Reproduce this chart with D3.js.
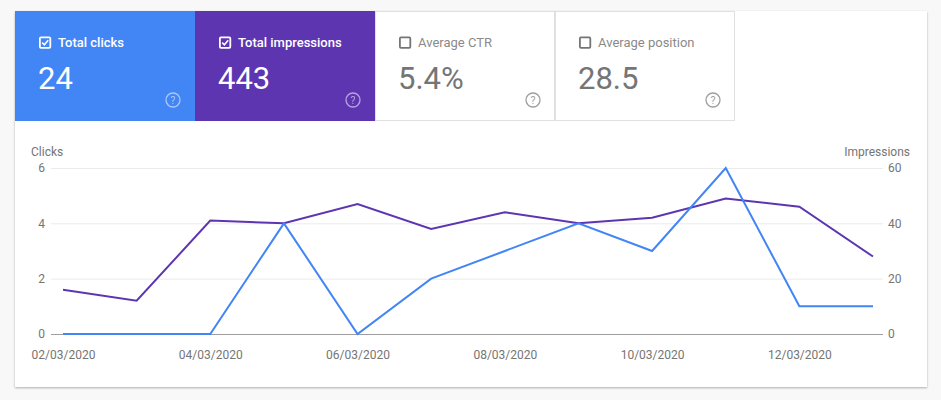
<!DOCTYPE html>
<html><head><meta charset="utf-8">
<script src="https://cdn.jsdelivr.net/npm/d3@7"></script>
<style>
html,body{margin:0;padding:0;background:#f8f8f8;}
svg{display:block;font-family:Roboto,"Noto Sans",sans-serif;}
</style></head>
<body>
<svg id="c" width="941" height="400"></svg>
<script>
const dates = ["02/03/2020","03/03/2020","04/03/2020","05/03/2020","06/03/2020","07/03/2020","08/03/2020","09/03/2020","10/03/2020","11/03/2020","12/03/2020","13/03/2020"];
const clicks = [0,0,0,4,0,2,3,4,3,6,1,1];
const impressions = [16,12,41,40,47,38,44,40,42,49,46,28];
const clickTicks = [0,2,4,6];
const imprTicks = [0,20,40,60];
const tileLabels = ["Total clicks","Total impressions","Average CTR","Average position"];
const tileValues = ["24","443","5.4%","28.5"];
const tileChecked = [true,true,false,false];
const tileColors = ["#4285f4","#5e35b1",null,null];

const svg = d3.select("#c");
const defs = svg.append("defs");
const f = defs.append("filter").attr("id","sh").attr("x","-5%").attr("y","-5%").attr("width","110%").attr("height","115%");
f.append("feDropShadow").attr("dx",0).attr("dy",1).attr("stdDeviation",1.2).attr("flood-color","#000").attr("flood-opacity",0.3);

svg.append("rect").attr("x",15).attr("y",11).attr("width",912).attr("height",376).attr("fill","#fff").attr("filter","url(#sh)");

// tiles
const tileX = d3.scaleBand().domain(d3.range(4)).range([15,735]);
const tiles = svg.selectAll("g.tile").data(tileLabels).join("g").attr("class","tile")
  .attr("transform",(d,i)=>`translate(${tileX(i)},11)`);
tiles.each(function(d,i){
  const g = d3.select(this);
  const w = tileX.bandwidth();
  const col = tileColors[i];
  if(col){
    g.append("rect").attr("width",w).attr("height",110).attr("fill",col);
  } else {
    g.append("rect").attr("x",0.5).attr("y",0.5).attr("width",w-1).attr("height",109).attr("fill","#fff").attr("stroke","#e0e0e0");
  }
  const fg = col ? "#fff" : "#757575";
  g.append("rect").attr("x",24.9).attr("y",26.4).attr("width",10.4).attr("height",10.4).attr("rx",1)
    .attr("fill","none").attr("stroke",fg).attr("stroke-width",1.8);
  if(tileChecked[i]){
    g.append("path").attr("d","M27.2,31.6 L29.4,33.8 L33.2,29.2").attr("fill","none").attr("stroke",fg).attr("stroke-width",1.6);
  }
  g.append("text").attr("x",43).attr("y",36).attr("font-size",13).attr("font-weight",col?500:400)
    .attr("fill",col?"#fff":"#8a8a8a").text(d);
  g.append("text").attr("x",23).attr("y",78).attr("font-size",31).attr("fill",col?"#fff":"#757575").text(tileValues[i]);
  const q = g.append("g").attr("transform",`translate(${w-22},89)`).attr("opacity",col?0.55:1);
  q.append("circle").attr("r",7).attr("fill","none").attr("stroke",col?"#fff":"#9e9e9e").attr("stroke-width",1.3);
  q.append("text").attr("y",3.8).attr("text-anchor","middle").attr("font-size",10.5).attr("fill",col?"#fff":"#9e9e9e").text("?");
});

// chart
const x = d3.scalePoint().domain(dates).range([63,873]);
const yL = d3.scaleLinear().domain([0,6]).range([334,168]);
const yR = d3.scaleLinear().domain([0,60]).range([334,168]);

const grid = svg.append("g");
grid.selectAll("line").data(clickTicks.filter(t=>t>0)).join("line")
  .attr("x1",51).attr("x2",883).attr("y1",d=>yL(d)+0.5).attr("y2",d=>yL(d)+0.5).attr("stroke","#ebebeb");
grid.append("line").attr("x1",51).attr("x2",883).attr("y1",yL(0)+0.5).attr("y2",yL(0)+0.5).attr("stroke","#9e9e9e");

const lAxis = svg.append("g").attr("transform","translate(51,0)")
  .call(d3.axisLeft(yL).tickValues(clickTicks).tickFormat(d3.format("d")).tickSize(0).tickPadding(6));
const rAxis = svg.append("g").attr("transform","translate(883,0)")
  .call(d3.axisRight(yR).tickValues(imprTicks).tickFormat(d3.format("d")).tickSize(0).tickPadding(5));
const xAxis = svg.append("g").attr("transform","translate(0,334)")
  .call(d3.axisBottom(x).tickValues(dates.filter((d,i)=>i%2===0)).tickSize(0).tickPadding(16));
[lAxis,rAxis,xAxis].forEach(a=>{
  a.select(".domain").remove();
  a.selectAll("text").attr("font-size",12).attr("fill","#757575").attr("font-family","Roboto,sans-serif");
});

svg.append("text").attr("x",31).attr("y",156).attr("font-size",12).attr("fill","#757575").text("Clicks");
svg.append("text").attr("x",910).attr("y",156).attr("text-anchor","end").attr("font-size",12).attr("fill","#757575").text("Impressions");

const lineImp = d3.line().x((d,i)=>x(dates[i])).y(d=>yR(d));
const lineClk = d3.line().x((d,i)=>x(dates[i])).y(d=>yL(d));
svg.append("path").datum(impressions).attr("d",lineImp).attr("fill","none").attr("stroke","#5e35b1").attr("stroke-width",2);
svg.append("path").datum(clicks).attr("d",lineClk).attr("fill","none").attr("stroke","#4285f4").attr("stroke-width",2);
</script>
</body></html>
